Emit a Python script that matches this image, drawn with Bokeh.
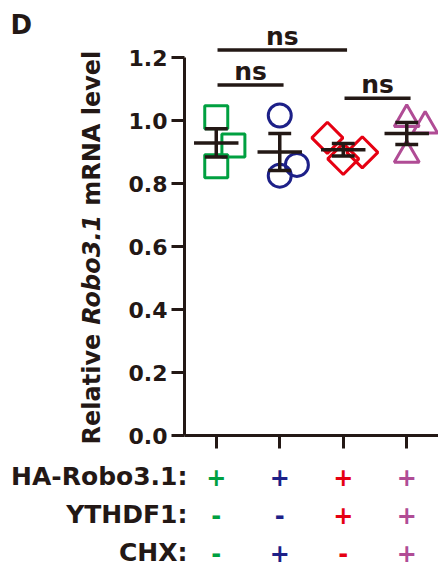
import numpy as np
from bokeh.plotting import figure
from bokeh.layouts import row, column
from bokeh.models import Label, FixedTicker, Range1d, ColumnDataSource
from bokeh.core.properties import value
from bokeh.embed import file_html
from bokeh.resources import INLINE

# ---------------- data ----------------
group_pos = [1, 2, 3, 4]
group_colors = ["#00a040", "#1d2088", "#e60012", "#b04c95"]
group_markers = ["square", "circle", "diamond", "triangle"]

g1_vals = [1.010, 0.921, 0.855]
g2_vals = [1.016, 0.859, 0.825]
g3_vals = [0.945, 0.878, 0.899]
g4_vals = [1.004, 0.983, 0.890]
g1_jit = [0.0, 0.27, 0.0]
g2_jit = [0.0, 0.27, 0.0]
g3_jit = [-0.25, 0.0, 0.30]
g4_jit = [0.0, 0.29, 0.0]

y_ticks = [0.0, 0.2, 0.4, 0.6, 0.8, 1.0, 1.2]

cond_names = ["HA-Robo3.1:", "YTHDF1:", "CHX:"]
ha_robo = ["+", "+", "+", "+"]
ythdf1 = ["-", "-", "+", "+"]
chx = ["-", "+", "-", "+"]

sig_left = [1, 1, 3]
sig_right = [3, 2, 4]
sig_y = [1.224, 1.113, 1.071]
sig_text = ["ns", "ns", "ns"]

# ---------------- layout ----------------
INK = "#231815"
FONT = "DejaVu Sans"
TOTAL_W, TOTAL_H = 438, 568
LEFT_W = 110          # panel holding "D" and the y-axis title
MAIN_H = 455          # height of the chart row
FRAME_L = 184         # page x of the y axis
FRAME_B = 435         # page y of the x axis
MAIN_W = TOTAL_W - LEFT_W
BL = FRAME_L - LEFT_W
BB = MAIN_H - FRAME_B
FW = MAIN_W - BL
X0, X1 = 0.5, 4.5
PX_PER_Y = 315.0
Y1 = FRAME_B / PX_PER_Y
xpp = (X1 - X0) / FW


def base_fig(w, h, xr, yr, **kw):
    f = figure(width=w, height=h, x_range=xr, y_range=yr, output_backend="svg",
               toolbar_location=None, title=None, **kw)
    f.outline_line_color = None
    f.grid.visible = False
    f.background_fill_color = "white"
    f.border_fill_color = "white"
    try:
        f.frame_align = False
    except Exception:
        pass
    return f


# ---- main chart ----
p = base_fig(MAIN_W, MAIN_H, Range1d(X0, X1), Range1d(0, Y1),
             min_border_left=BL, min_border_right=0, min_border_top=0, min_border_bottom=BB)

ya = p.yaxis[0]
ya.bounds = (0, 1.2)
ya.ticker = FixedTicker(ticks=y_ticks)
ya.major_label_overrides = {t: f"{t:.1f}" for t in y_ticks}
ya.axis_line_width = 3
ya.axis_line_color = INK
ya.major_tick_line_width = 3
ya.major_tick_line_color = INK
ya.major_tick_out = 13
ya.major_tick_in = 0
ya.minor_tick_line_color = None
ya.major_label_standoff = 4
ya.major_label_text_font = FONT
ya.major_label_text_font_style = "bold"
ya.major_label_text_font_size = "22px"
ya.major_label_text_color = INK

xa = p.xaxis[0]
xa.ticker = FixedTicker(ticks=group_pos)
xa.major_label_overrides = {g: "" for g in group_pos}
xa.major_label_standoff = 0
xa.axis_line_width = 3
xa.axis_line_color = INK
xa.major_tick_line_width = 3
xa.major_tick_line_color = INK
xa.major_tick_out = 13
xa.major_tick_in = 0
xa.minor_tick_line_color = None

all_vals = [g1_vals, g2_vals, g3_vals, g4_vals]
all_jit = [g1_jit, g2_jit, g3_jit, g4_jit]
for g, vals, jit, col, mk in zip(group_pos, all_vals, all_jit, group_colors, group_markers):
    xs = [g + j for j in jit]
    if mk == "diamond":
        p.scatter(xs, vals, marker="square", size=22, angle=np.pi / 4,
                  fill_color=None, line_color=col, line_width=3)
    elif mk == "triangle":
        p.scatter(xs, vals, marker="triangle", size=25,
                  fill_color=None, line_color=col, line_width=3)
    else:
        p.scatter(xs, vals, marker=mk, size=23,
                  fill_color=None, line_color=col, line_width=3)

means = np.array([np.mean(v) for v in all_vals])
sems = np.array([np.std(v, ddof=1) / np.sqrt(len(v)) for v in all_vals])
gx = np.array(group_pos, dtype=float)
mw, cw = 0.35, 0.18
p.segment(gx - mw, means, gx + mw, means, line_color=INK, line_width=3.5)
p.segment(gx, means - sems, gx, means + sems, line_color=INK, line_width=3.5)
p.segment(gx - cw, means + sems, gx + cw, means + sems, line_color=INK, line_width=3.5)
p.segment(gx - cw, means - sems, gx + cw, means - sems, line_color=INK, line_width=3.5)

sl = np.array(sig_left, dtype=float) + 0.02
sr = np.array(sig_right, dtype=float) + 0.06
p.segment(sl, sig_y, sr, sig_y, line_color=INK, line_width=3.5)
ns_src = ColumnDataSource(dict(x=(sl + sr) / 2, y=np.array(sig_y) + 13.5 / PX_PER_Y, t=sig_text))
p.text(x="x", y="y", text="t", source=ns_src, text_align="center", text_baseline="middle",
       text_font=value(FONT), text_font_style="bold", text_font_size="25px", text_color=INK)

# ---- left panel: letter + y title ----
lf = base_fig(LEFT_W, MAIN_H, Range1d(0, LEFT_W), Range1d(0, MAIN_H),
              min_border=0, x_axis_type=None, y_axis_type=None)


def ly(page_y):
    return MAIN_H - page_y


lf.add_layout(Label(x=10, y=ly(24), text="D", text_align="left", text_baseline="middle",
                    text_font=FONT, text_font_style="bold", text_font_size="26px", text_color=INK))

# y title in three pieces (gene name in italic); centres placed along the axis
ylab_fs = 24
SPACE_EM = 0.348
pieces = [("Relative", "bold", 4.617), ("Robo3.1", "bold italic", 4.632), ("mRNA level", "bold", 6.465)]
cur = 444.0
for i, (txt, style, em) in enumerate(pieces):
    if i > 0:
        cur -= SPACE_EM * ylab_fs
    length = em * ylab_fs
    centre = cur - length / 2
    lf.add_layout(Label(x=91, y=ly(centre), text=txt, angle=np.pi / 2, text_align="center",
                        text_baseline="middle", text_font=FONT, text_font_style=style,
                        text_font_size=f"{ylab_fs}px", text_color=INK))
    cur -= length

# ---- bottom panel: condition table ----
TAB_H = TOTAL_H - MAIN_H
tf = base_fig(TOTAL_W, TAB_H, Range1d(X0 - FRAME_L * xpp, X1), Range1d(0, TAB_H),
              min_border=0, x_axis_type=None, y_axis_type=None)


def ty(page_y):
    return TOTAL_H - page_y


row_page_y = [476, 514, 552]
name_x = X0 + (187 - FRAME_L) * xpp
tf.text(x=[name_x] * 3, y=[ty(v) for v in row_page_y], text=cond_names, text_align="right",
        text_baseline="middle", text_font=value(FONT), text_font_style="bold",
        text_font_size="25px", text_color=INK)
sx, sy, st, sc = [], [], [], []
for signs, py in zip([ha_robo, ythdf1, chx], row_page_y):
    for g, sgn, col in zip(group_pos, signs, group_colors):
        sx.append(g)
        sy.append(ty(py))
        st.append(sgn)
        sc.append(col)
tf.text(x="x", y="y", text="t", text_color="c", source=ColumnDataSource(dict(x=sx, y=sy, t=st, c=sc)),
        text_align="center", text_baseline="middle", text_font=value(FONT),
        text_font_style="bold", text_font_size="24px")

layout = column(row(lf, p, spacing=0), tf, spacing=0)
open("out.html", "w").write(file_html(layout, INLINE))
